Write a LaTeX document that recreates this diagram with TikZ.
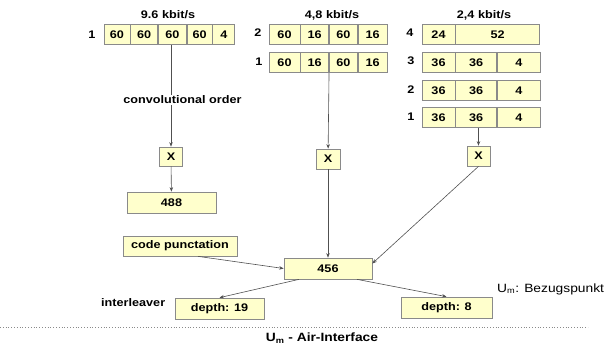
\documentclass[tikz,border=0pt]{standalone}
\usepackage{fontspec}
\setmainfont[FakeStretch=1.15]{Liberation Sans}
\usetikzlibrary{arrows.meta, positioning}
\definecolor{boxfill}{HTML}{FFFFCC}
\definecolor{boxline}{HTML}{8A8A8A}
\definecolor{wireline}{HTML}{505050}
\tikzset{
    cell/.style={
        rectangle,
        draw=boxline,
        line width=0.7pt,
        fill=boxfill,
        minimum width=26pt,
        minimum height=20pt,
        inner sep=0pt,
        font=\fontsize{11}{12}\selectfont\bfseries
    },
    opbox/.style={
        cell,
        minimum width=23pt,
        minimum height=19pt
    },
    block/.style={
        cell,
        minimum width=89pt,
        minimum height=21pt
    },
    heading/.style={
        font=\fontsize{11}{12}\selectfont\bfseries,
        inner sep=1pt
    },
    rowlabel/.style={
        font=\fontsize{11}{12}\selectfont\bfseries,
        inner sep=0pt
    },
    note/.style={
        font=\fontsize{12}{13}\selectfont,
        inner sep=1pt
    },
    link/.style={
        draw=wireline,
        line width=0.6pt
    },
    wire/.style={
        link,
        -{Stealth[length=4.5pt,width=3.5pt]}
    }
}

\begin{document}
\begin{tikzpicture}[x=1pt, y=-1pt]
\useasboundingbox (0,0) rectangle (606,346);

% 9.6 kbit/s
\node[heading] (t96) at (168,15) {9.6 kbit/s};
\node[rowlabel] (r96) at (92,35) {1};
\node[cell] (g1a) at (117,34.5) {60};
\node[cell, minimum width=27pt, right=0pt of g1a] (g1b) {60};
\node[cell, minimum width=28pt, right=0pt of g1b] (g1c) {60};
\node[cell, minimum width=25pt, right=0pt of g1c] (g1d) {60};
\node[cell, minimum width=22pt, right=0pt of g1d] (g1e) {4};

% 4,8 kbit/s
\node[heading] (t48) at (332,15) {4,8 kbit/s};
\node[rowlabel] (r48b) at (258,33) {2};
\node[cell, minimum width=31pt] (h2a) at (284.5,34.5) {60};
\node[cell, minimum width=28pt, right=0pt of h2a] (h2b) {16};
\node[cell, minimum width=28pt, right=0pt of h2b] (h2c) {60};
\node[cell, minimum width=29pt, right=0pt of h2c] (h2d) {16};
\node[rowlabel] (r48a) at (259,62) {1};
\node[cell, minimum width=31pt] (h1a) at (284.5,62.5) {60};
\node[cell, minimum width=28pt, right=0pt of h1a] (h1b) {16};
\node[cell, minimum width=28pt, right=0pt of h1b] (h1c) {60};
\node[cell, minimum width=29pt, right=0pt of h1c] (h1d) {16};

% 2,4 kbit/s
\node[heading] (t24) at (484,15) {2,4 kbit/s};
\node[rowlabel] (r24d) at (410,33) {4};
\node[cell, minimum width=33pt] (k4a) at (438.5,34.5) {24};
\node[cell, minimum width=84pt, right=0pt of k4a] (k4b) {52};
\node[rowlabel] (r24c) at (411,61) {3};
\node[cell, minimum width=33pt] (k3a) at (438.5,62.5) {36};
\node[cell, minimum width=41pt, right=0pt of k3a] (k3b) {36};
\node[cell, minimum width=43pt, right=0pt of k3b] (k3c) {4};
\node[rowlabel] (r24b) at (411,90) {2};
\node[cell, minimum width=33pt] (k2a) at (438.5,90.5) {36};
\node[cell, minimum width=41pt, right=0pt of k2a] (k2b) {36};
\node[cell, minimum width=43pt, right=0pt of k2b] (k2c) {4};
\node[rowlabel] (r24a) at (411,117) {1};
\node[cell, minimum width=33pt] (k1a) at (438.5,117.5) {36};
\node[cell, minimum width=41pt, right=0pt of k1a] (k1b) {36};
\node[cell, minimum width=43pt, right=0pt of k1b] (k1c) {4};

% coding chain
\node[heading] (conv) at (182.5,100) {convolutional order};
\node[opbox] (x1) at (171,156.5) {X};
\node[opbox, minimum width=24pt, minimum height=20pt] (x2) at (328,159) {X};
\node[opbox, minimum height=20pt] (x3) at (478.5,156) {X};
\node[block] (b488) at (171.5,202.5) {488};
\node[block, minimum width=114pt, minimum height=20pt] (cp) at (180,246) {code punctation};
\node[block, minimum width=88pt] (n456) at (328,268.5) {456};
\node[block] (d19) at (219.5,308.5) {depth: 19};
\node[block, minimum width=91pt] (d8) at (446.5,307.5) {depth: 8};

\node[heading, anchor=west] (il) at (100,303) {interleaver};
\node[note, anchor=west] (bz) at (496,289) {U\textsubscript{m}: Bezugspunkt};
\node[heading, font=\fontsize{12}{13}\selectfont\bfseries] (air) at (322,338) {U\textsubscript{m} - Air-Interface};

\coordinate (lineL) at (0,327);
\coordinate (lineR) at (588,327);
\draw[boxline, line width=0.8pt, dotted] (lineL) -- (lineR);

\draw[link] (g1c.south -| x1) -- (x1 |- conv.north);
\draw[wire] (x1 |- conv.south) -- (x1);
\draw[wire] (x1) -- (b488);
\draw[wire] (h1b.south east) -- (x2);
\draw[wire] (x2) -- (n456);
\draw[wire] (k1b.south -| x3) -- (x3);
\draw[wire] (x3.south) -- ([yshift=5pt]n456.east);
\draw[wire] ([xshift=18pt]cp.south) -- (n456.west);
\draw[wire] ([xshift=-29pt]n456.south) -- (d19.north);
\draw[wire] ([xshift=29pt]n456.south) -- (d8.north);

\end{tikzpicture}
\end{document}
